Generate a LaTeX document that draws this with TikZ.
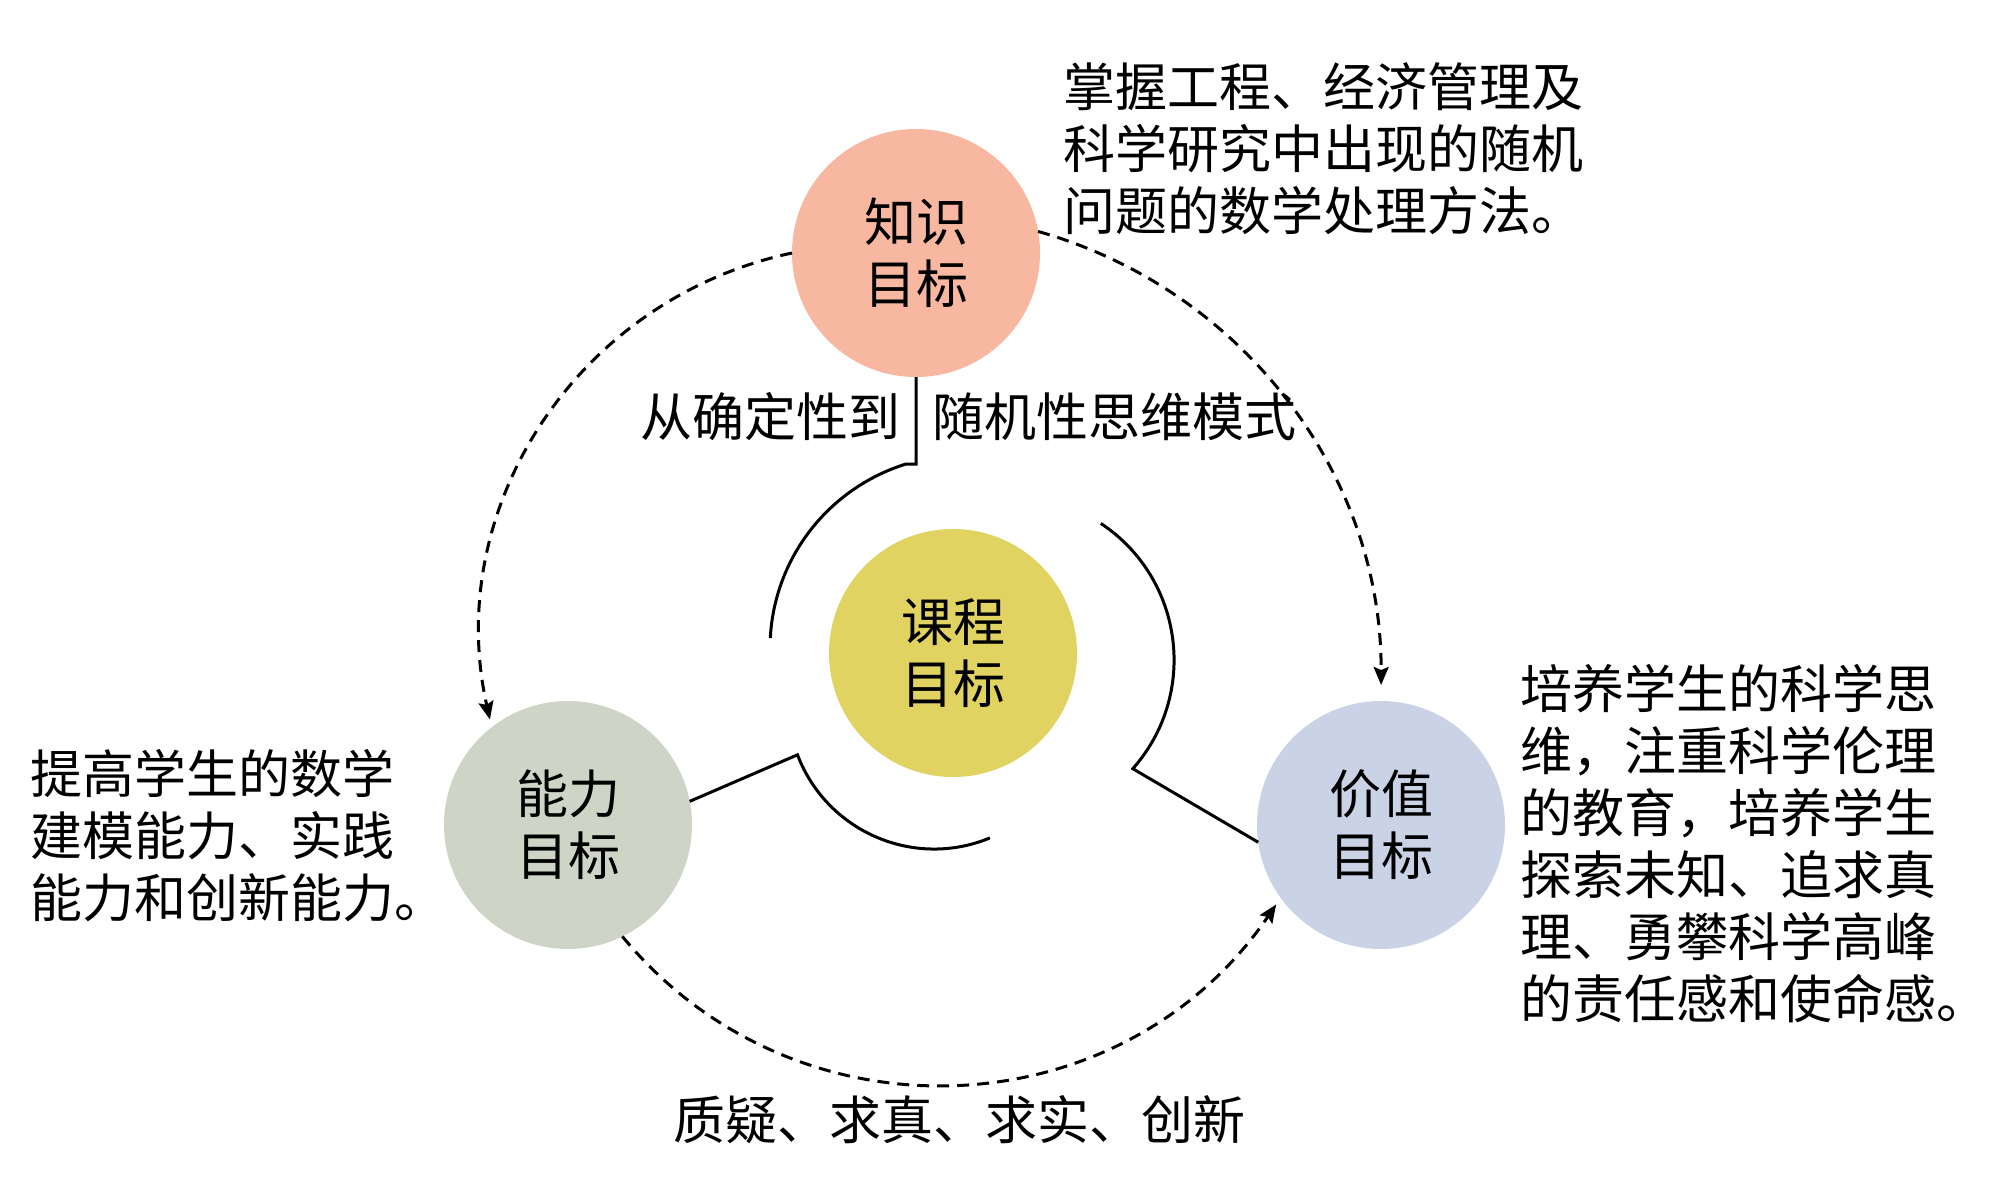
\documentclass[tikz,border=0pt]{standalone}
\usepackage{fontspec}
\newfontfamily\cjk{Noto Sans CJK SC}
\usetikzlibrary{arrows.meta}
\definecolor{kcol}{RGB}{247,183,160}
\definecolor{ccol}{RGB}{224,211,98}
\definecolor{acol}{RGB}{206,213,198}
\definecolor{vcol}{RGB}{201,211,229}
\begin{document}
\begin{tikzpicture}[x=0.5pt,y=-0.5pt,
  goal/.style={circle,minimum size=124pt,inner sep=0pt,outer sep=0pt,align=center,font=\cjk\fontsize{26pt}{31pt}\selectfont},
  txt/.style={inner sep=0pt,align=left,font=\cjk\fontsize{26pt}{31pt}\selectfont},
  solidline/.style={line width=1.5pt},
  dasharrow/.style={line width=1.5pt,dash pattern=on 6pt off 4pt,-{Stealth[length=9pt,width=7.5pt,inset=1.5pt]}}]
\useasboundingbox (0,0) rectangle (2000,1193);
\fill[white] (0,0) rectangle (2000,1193);

\node[goal,fill=kcol] (K) at (916,253) {知识\\目标};
\node[goal,fill=ccol] (C) at (953,653) {课程\\目标};
\node[goal,fill=acol] (A) at (568,825) {能力\\目标};
\node[goal,fill=vcol] (V) at (1381,825) {价值\\目标};

\node[txt,anchor=west] (t1) at (1063,149) {掌握工程、经济管理及\\科学研究中出现的随机\\问题的数学处理方法。};
\node[txt,anchor=west] (t2) at (30,836) {提高学生的数学\\建模能力、实践\\能力和创新能力。};
\node[txt,anchor=west] (t3) at (1520,844) {培养学生的科学思\\维，注重科学伦理\\的教育，培养学生\\探索未知、追求真\\理、勇攀科学高峰\\的责任感和使命感。};
\node[txt,anchor=east] (t4) at (901,417) {从确定性到};
\node[txt,anchor=west] (t5) at (932,417) {随机性思维模式};
\node[txt] (t6) at (959,1120) {质疑、求真、求实、创新};

% solid arcs around the centre
\coordinate (L0) at (906,464);
\coordinate (L1) at (770.3,638);
\draw[solidline] (K.south) |- (L0) .. controls (828.7,488) and (774.5,557.4) .. (L1);
\coordinate (R0) at (1100.8,523.4);
\coordinate (R1) at (1132.8,768.7);
\draw[solidline] (R0) .. controls (1183.8,578.5) and (1198.8,694.1) .. (R1) -- (V.188);
\coordinate (B0) at (797.5,754.8);
\coordinate (B1) at (989.9,837.9);
\draw[solidline] (A.11) -- (B0) .. controls (826.7,831.7) and (913.9,869.4) .. (B1);

% dashed arrows
\draw[dasharrow,shorten >=4pt] (K.west) .. controls (577.8,298.6) and (442.3,507) .. (A.128);
\draw[dasharrow,shorten >=8pt] (K.10) .. controls (1242.5,289.3) and (1382,474.4) .. (V.north);
\draw[dasharrow,shorten >=4pt] (A.296) .. controls (796.7,1147.4) and (1122.2,1130.1) .. (V.216);
\end{tikzpicture}
\end{document}
